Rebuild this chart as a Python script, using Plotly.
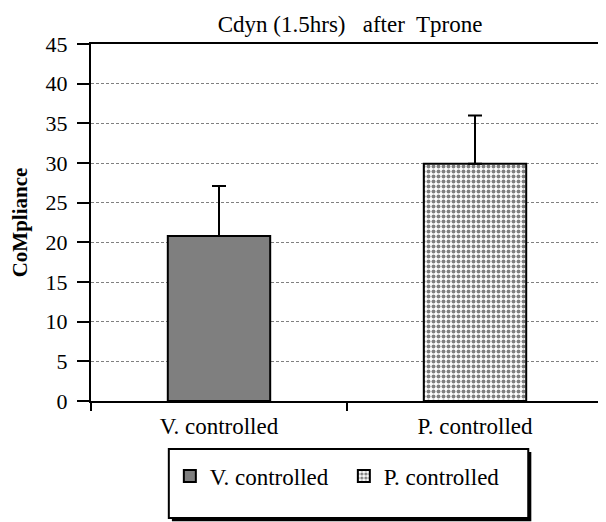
import plotly.graph_objects as go

categories = ["V. controlled", "P. controlled"]
means = [20.8, 29.9]
errors_up = [6.3, 6.1]
bar_colors = ["#7f7f7f", "white"]
y_ticks = [0, 5, 10, 15, 20, 25, 30, 35, 40, 45]

FONT = "Times New Roman, Liberation Serif, serif"

fig = go.Figure()
fig.add_trace(go.Bar(
    x=[categories[0]], y=[means[0]], name=categories[0], width=0.4,
    marker=dict(color=bar_colors[0], line=dict(color="black", width=2)),
    error_y=dict(type="data", symmetric=False, array=[errors_up[0]], arrayminus=[0],
                 color="black", thickness=2, width=7),
))
fig.add_trace(go.Bar(
    x=[categories[1]], y=[means[1]], name=categories[1], width=0.4,
    marker=dict(color=bar_colors[1], line=dict(color="black", width=2),
                pattern=dict(shape=".", fgcolor="black", bgcolor="white", size=5, solidity=0.5)),
    error_y=dict(type="data", symmetric=False, array=[errors_up[1]], arrayminus=[0],
                 color="black", thickness=2, width=7),
))

# page has an 8px body margin, so the figure is sized to fit the window
fig.update_layout(
    width=598, height=514,
    margin=dict(l=83, r=3, t=36, b=121, autoexpand=False),
    paper_bgcolor="white", plot_bgcolor="white",
    font=dict(family=FONT, color="black", size=22),
    title=dict(text="Cdyn (1.5hrs)&nbsp;&nbsp; after&nbsp; Tprone", x=0.572, xanchor="center",
               y=0.985, yanchor="top", font=dict(size=23, family=FONT)),
    showlegend=True,
    legend=dict(orientation="h", x=0.154, xanchor="left", y=-0.21, yanchor="middle",
                font=dict(size=23, family=FONT), bgcolor="rgba(0,0,0,0)",
                traceorder="normal", itemwidth=30, entrywidth=129),
    bargap=0.6,
)
fig.update_xaxes(
    type="category", showline=True, linecolor="black", linewidth=2, mirror=True,
    ticks="outside", tickson="boundaries", ticklen=8, tickwidth=2, tickcolor="black",
    tickfont=dict(size=23, family=FONT), ticklabelstandoff=3, showgrid=False,
    automargin=False,
)
fig.update_yaxes(
    range=[0, 45], tickvals=y_ticks, showline=True, linecolor="black", linewidth=2,
    ticks="outside", ticklen=12, tickwidth=2, tickcolor="black",
    tickfont=dict(size=22, family=FONT), ticklabelstandoff=5,
    showgrid=True, gridcolor="#808080", gridwidth=1, griddash="3px,2px", zeroline=False,
    title=dict(text="<b>CoMpliance</b>", font=dict(size=21, family=FONT), standoff=22),
    automargin=False,
)
# right frame line (thin gray)
fig.add_shape(type="line", xref="paper", yref="paper", x0=1, x1=1, y0=0, y1=1,
              line=dict(color="#999999", width=1))
# legend box with shadow
fig.add_shape(type="rect", xref="paper", yref="paper", x0=0.158, x1=0.860, y0=-0.337, y1=-0.143,
              line=dict(color="black", width=0), fillcolor="black")
fig.add_shape(type="rect", xref="paper", yref="paper", x0=0.152, x1=0.854, y0=-0.328, y1=-0.1345,
              line=dict(color="black", width=2), fillcolor="white")

fig.write_html("out.html")
